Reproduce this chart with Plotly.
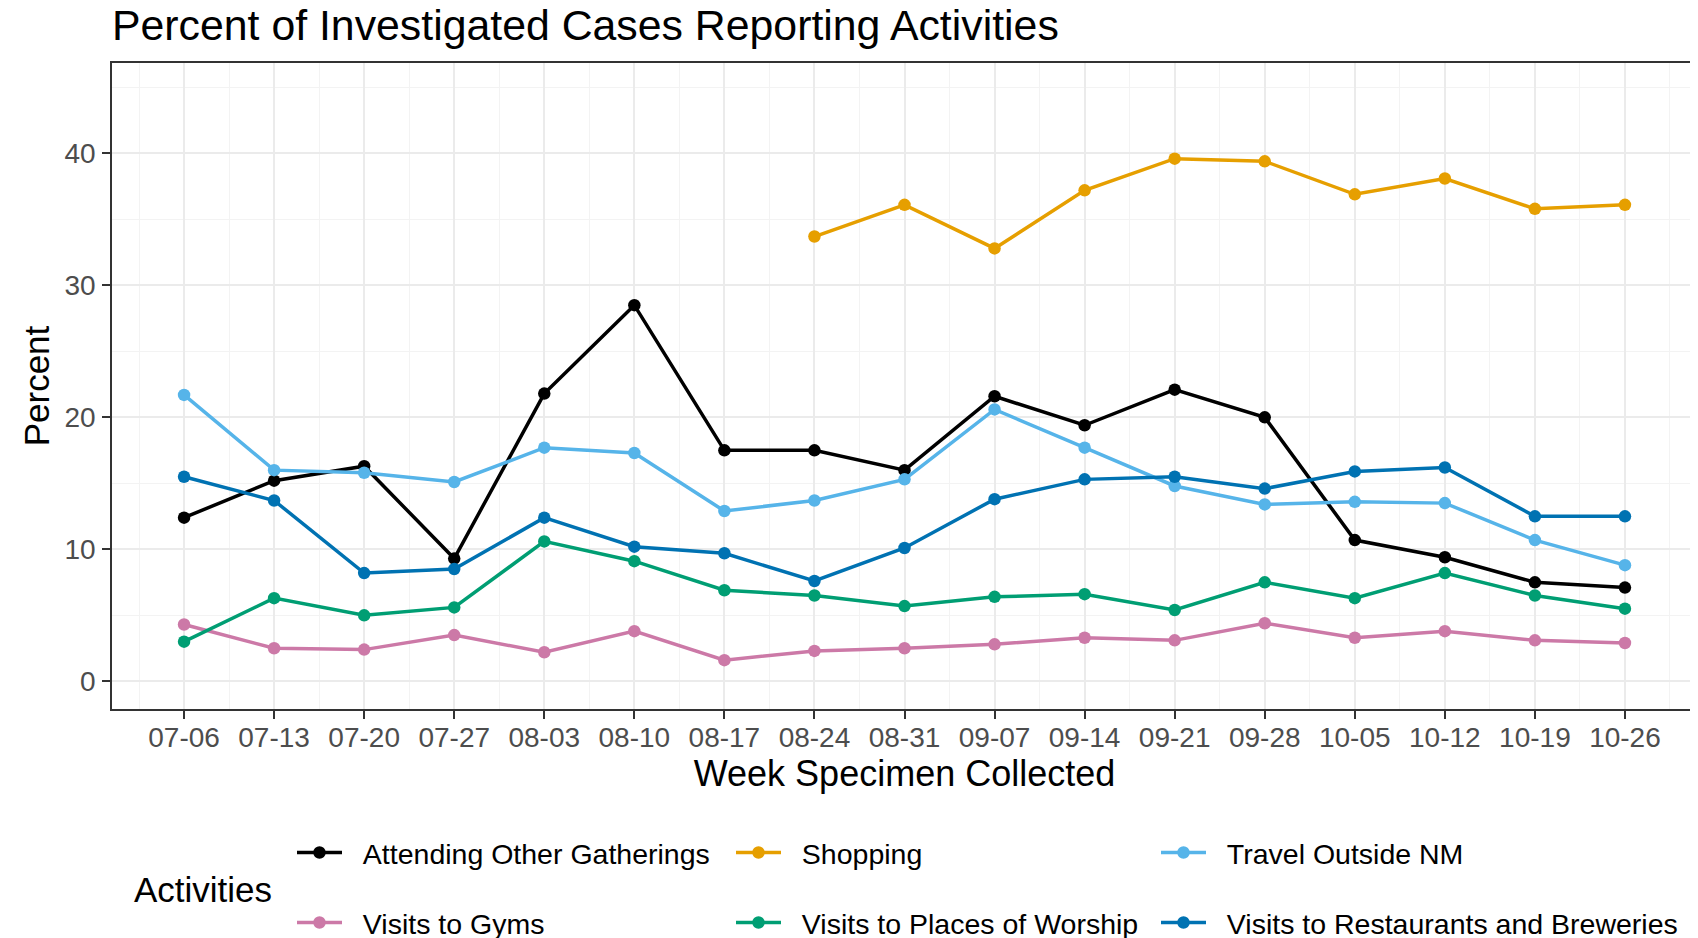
import plotly.graph_objects as go

weeks = ["2020-07-06", "2020-07-13", "2020-07-20", "2020-07-27", "2020-08-03", "2020-08-10",
         "2020-08-17", "2020-08-24", "2020-08-31", "2020-09-07", "2020-09-14", "2020-09-21",
         "2020-09-28", "2020-10-05", "2020-10-12", "2020-10-19", "2020-10-26"]

gatherings = [12.4, 15.2, 16.3, 9.3, 21.8, 28.5, 17.5, 17.5, 16.0, 21.6, 19.4, 22.1, 20.0, 10.7, 9.4, 7.5, 7.1]
shopping = [None, None, None, None, None, None, None, 33.7, 36.1, 32.8, 37.2, 39.6, 39.4, 36.9, 38.1, 35.8, 36.1]
travel = [21.7, 16.0, 15.8, 15.1, 17.7, 17.3, 12.9, 13.7, 15.3, 20.6, 17.7, 14.8, 13.4, 13.6, 13.5, 10.7, 8.8]
gyms = [4.3, 2.5, 2.4, 3.5, 2.2, 3.8, 1.6, 2.3, 2.5, 2.8, 3.3, 3.1, 4.4, 3.3, 3.8, 3.1, 2.9]
worship = [3.0, 6.3, 5.0, 5.6, 10.6, 9.1, 6.9, 6.5, 5.7, 6.4, 6.6, 5.4, 7.5, 6.3, 8.2, 6.5, 5.5]
restaurants = [15.5, 13.7, 8.2, 8.5, 12.4, 10.2, 9.7, 7.6, 10.1, 13.8, 15.3, 15.5, 14.6, 15.9, 16.2, 12.5, 12.5]

series_names = ["Attending Other Gatherings", "Shopping", "Travel Outside NM",
                "Visits to Gyms", "Visits to Places of Worship", "Visits to Restaurants and Breweries"]
series_values = [gatherings, shopping, travel, gyms, worship, restaurants]
colors = ["#000000", "#E69F00", "#56B4E9", "#CC79A7", "#009E73", "#0072B2"]

FONT = "Liberation Sans, Arial, sans-serif"
OFF = 8  # page body margin offset
W, H = 1698 - OFF, 938 - OFF
ML = 112 - OFF
MT = 63 - OFF
MR = 1
MB = H - (709 - OFF)
PW = W - ML - MR
PH = H - MT - MB


def px_x(x):  # reference pixel x -> paper x
    return (x - OFF - ML) / PW


def px_y(y):  # reference pixel y -> paper y
    return (MT + PH - (y - OFF)) / PH


fig = go.Figure()

col_x = [292, 731, 1156]
row_y = [853, 923]

for i, (name, vals, col) in enumerate(zip(series_names, series_values, colors)):
    lg = "legend" if i == 0 else f"legend{i+1}"
    fig.add_trace(go.Scatter(
        x=weeks, y=vals, name="\u00a0\u00a0" + name, mode="lines+markers",
        line=dict(color=col, width=3.5),
        marker=dict(color=col, size=12.5),
        connectgaps=False,
        legend=lg,
    ))

legend_layout = {}
for i in range(6):
    r, c = divmod(i, 3)
    key = "legend" if i == 0 else f"legend{i+1}"
    legend_layout[key] = dict(
        x=px_x(col_x[c]), y=px_y(row_y[r]),
        xanchor="left", yanchor="middle",
        orientation="h", bgcolor="rgba(0,0,0,0)",
        font=dict(family=FONT, size=28.5, color="#000000"),
        itemwidth=45, borderwidth=0,
    )

day = 86400000
fig.update_layout(
    width=W, height=H,
    margin=dict(l=ML, r=MR, t=MT, b=MB, autoexpand=False),
    paper_bgcolor="white", plot_bgcolor="white",
    title=dict(text="Percent of Investigated Cases Reporting Activities",
               x=(112 - OFF) / W, xanchor="left", xref="container",
               y=1 - (25 - OFF) / H, yanchor="middle", yref="container",
               font=dict(family=FONT, size=42.8, color="#000000")),
    showlegend=True,
    xaxis=dict(
        type="date", automargin=False,
        range=["2020-06-30 09:36", "2020-10-31 14:24"],
        tick0="2020-07-06", dtick=7 * day, tickformat="%m-%d",
        ticks="outside", ticklen=8, tickwidth=1.5, tickcolor="#333333",
        tickfont=dict(family=FONT, size=28, color="#4D4D4D"),
        showgrid=True, gridcolor="#EBEBEB", gridwidth=1.6,
        minor=dict(tick0="2020-07-02 12:00", dtick=7 * day, showgrid=True,
                   gridcolor="#F3F3F3", gridwidth=1),
        showline=True, mirror=True, linecolor="#333333", linewidth=1.5,
        zeroline=False,
        title=dict(text="Week Specimen Collected", standoff=8,
                   font=dict(family=FONT, size=36, color="#000000")),
    ),
    yaxis=dict(
        range=[-2.1, 46.85], tick0=0, dtick=10, automargin=False,
        ticks="outside", ticklen=8, tickwidth=1.5, tickcolor="#333333",
        tickfont=dict(family=FONT, size=28, color="#4D4D4D"),
        showgrid=True, gridcolor="#EBEBEB", gridwidth=1.6,
        minor=dict(tick0=5, dtick=10, showgrid=True, gridcolor="#F3F3F3", gridwidth=1),
        showline=True, mirror=True, linecolor="#333333", linewidth=1.5,
        zeroline=False,
        title=dict(text="Percent", standoff=4,
                   font=dict(family=FONT, size=35, color="#000000")),
    ),
    annotations=[dict(text="Activities", xref="paper", yref="paper",
                      x=px_x(132), y=px_y(889),
                      xanchor="left", yanchor="middle", showarrow=False,
                      font=dict(family=FONT, size=35, color="#000000"))],
    **legend_layout,
)

try:
    fig.layout.xaxis.ticklabelstandoff = -5
    fig.layout.yaxis.ticklabelstandoff = 1
except Exception:
    pass

fig.write_html("out.html")
